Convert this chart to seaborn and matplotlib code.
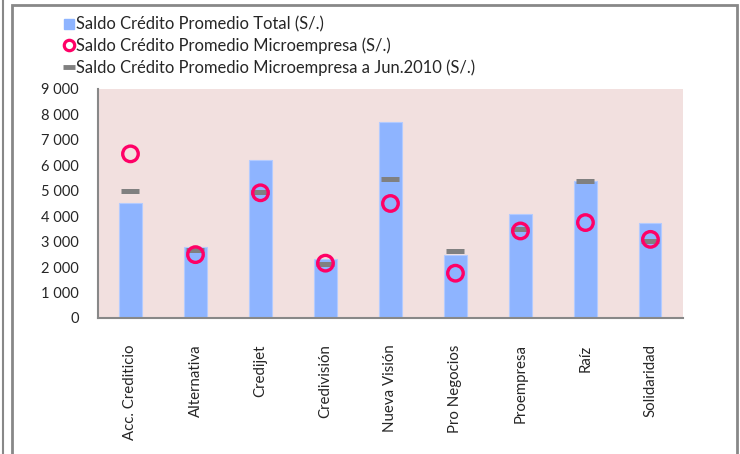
import matplotlib
matplotlib.use("Agg")
import matplotlib.pyplot as plt
import matplotlib.ticker as mticker
from matplotlib.lines import Line2D
from matplotlib.patches import Rectangle
import seaborn as sns
import pandas as pd

# values
entidades = ["Acc. Crediticio", "Alternativa", "Credijet", "Credivisión", "Nueva Visión",
             "Pro Negocios", "Proempresa", "Raíz", "Solidaridad"]
saldo_total = [4500, 2790, 6210, 2300, 7710, 2460, 4080, 5395, 3735]
saldo_micro = [6450, 2490, 4920, 2155, 4500, 1760, 3420, 3750, 3090]
saldo_micro_jun2010 = [5000, 2685, 4950, 2105, 5460, 2630, 3500, 5380, 3025]

bar_color = "#8EB4FF"
circle_color = "#FF0066"
dash_color = "#808080"

sns.set_style("white")
plt.rcParams["font.family"] = ["Lato", "DejaVu Sans"]

df = pd.DataFrame({"entidad": entidades, "total": saldo_total,
                   "micro": saldo_micro, "jun2010": saldo_micro_jun2010})

fig = plt.figure(figsize=(7.4, 4.54), dpi=100)
ax = fig.add_axes([0.1324, 0.2996, 0.7905, 0.5044])
ax.set_facecolor("#F2E0DF")

sns.barplot(data=df, x="entidad", y="total", color=bar_color, saturation=1,
            width=0.34, edgecolor="#B3CBFF", linewidth=0.8, ax=ax, zorder=2)
sns.scatterplot(data=df, x="entidad", y="jun2010", marker="_", s=150,
                color=dash_color, linewidth=3.6, ax=ax, zorder=3)
sns.scatterplot(data=df, x="entidad", y="micro", marker="o", s=125,
                facecolors="none", edgecolor=circle_color, linewidth=2.4,
                ax=ax, zorder=4)

ax.set_xlim(-0.5, len(entidades) - 0.5)
ax.set_ylim(0, 9000)
ax.yaxis.set_major_locator(mticker.MultipleLocator(1000))
ax.yaxis.set_major_formatter(mticker.FuncFormatter(lambda v, p: f"{int(v):,}".replace(",", " ")))
ax.set_xlabel("")
ax.set_ylabel("")
ax.tick_params(axis="x", labelrotation=90, labelsize=10.8, length=0, pad=19)
ax.tick_params(axis="y", labelsize=10.5, length=0, pad=14)

for side in ["top", "right"]:
    ax.spines[side].set_visible(False)
for side in ["left", "bottom"]:
    ax.spines[side].set_color("#888888")
    ax.spines[side].set_linewidth(1.5)

handles = [
    Line2D([], [], linestyle="none", marker="s", markersize=7, color=bar_color),
    Line2D([], [], linestyle="none", marker="o", markersize=7.5, markerfacecolor="none",
           markeredgecolor=circle_color, markeredgewidth=2.3),
    Line2D([], [], linestyle="none", marker="_", markersize=8, color=dash_color,
           markeredgewidth=3.5),
]
labels = ["Saldo Crédito Promedio Total (S/.)",
          "Saldo Crédito Promedio Microempresa (S/.)",
          "Saldo Crédito Promedio Microempresa a Jun.2010 (S/.)"]
fig.legend(handles, labels, loc="upper left", bbox_to_anchor=(0.076, 0.982),
           frameon=False, fontsize=11.9, handlelength=0.55, handletextpad=0.15,
           labelspacing=0.3, borderpad=0)

# chart frame
fig.add_artist(Rectangle((12 / 740, -0.05), 725 / 740, 1.04, transform=fig.transFigure,
                         fill=False, edgecolor="#888888", linewidth=2))
fig.add_artist(Line2D([3 / 740, 3 / 740], [0, 1], transform=fig.transFigure,
                      color="#888888", linewidth=1.5))

fig.savefig("out.png", dpi=100)
